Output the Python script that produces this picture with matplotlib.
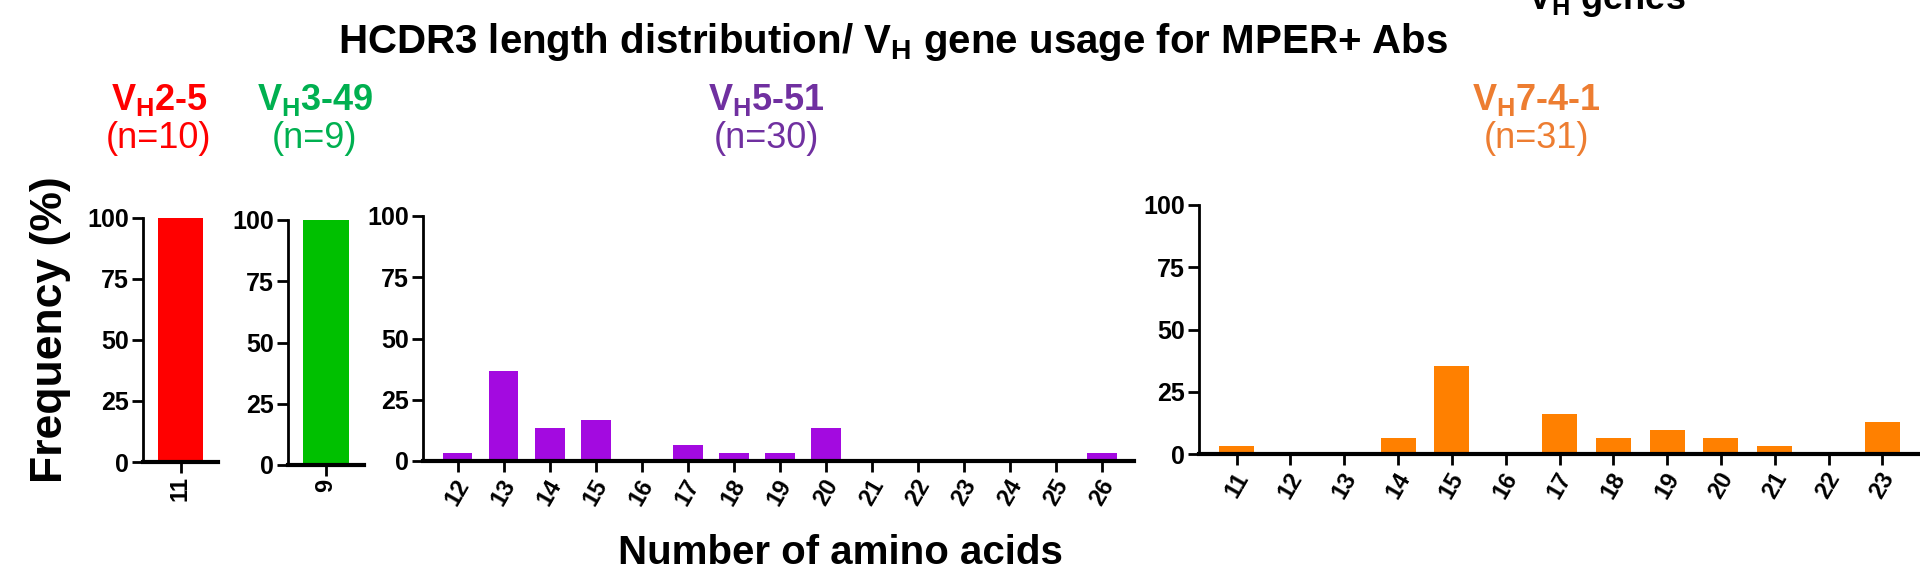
import numpy as np
import matplotlib
matplotlib.use("Agg")
import matplotlib.pyplot as plt

plt.rcParams['font.family'] = 'Liberation Sans'
plt.rcParams['mathtext.fontset'] = 'custom'
plt.rcParams['mathtext.rm'] = 'Liberation Sans'
plt.rcParams['mathtext.bf'] = 'Liberation Sans:bold'

# data: HCDR3 length (aa) -> frequency (%)
vh2_lengths = [11]
vh2_freq = [100.0]
vh3_lengths = [9]
vh3_freq = [100.0]
vh5_lengths = [12, 13, 14, 15, 16, 17, 18, 19, 20, 21, 22, 23, 24, 25, 26]
vh5_freq = [3.3, 36.7, 13.3, 16.7, 0, 6.7, 3.3, 3.3, 13.3, 0, 0, 0, 0, 0, 3.3]
vh7_lengths = [11, 12, 13, 14, 15, 16, 17, 18, 19, 20, 21, 22, 23]
vh7_freq = [3.2, 0, 0, 6.5, 35.5, 0, 16.1, 6.5, 9.7, 6.5, 3.2, 0, 12.9]

gene_names = ['2-5', '3-49', '5-51', '7-4-1']
gene_n = [10, 9, 30, 31]
bar_colors = ['#ff0000', '#00c000', '#a30ae0', '#ff8000']
text_colors = ['#ff0000', '#00b050', '#7030a0', '#ed7d31']

W, H = 1920, 579
fig = plt.figure(figsize=(W / 100, H / 100), dpi=100)


def add_px_axes(x0, x1, ytop, ybase):
    return fig.add_axes([x0 / W, 1 - ybase / H, (x1 - x0) / W, (ybase - ytop) / H])


# pixel boxes: (left, right, y of 100, y of 0)
panels = [
    (vh2_lengths, vh2_freq, (143, 218, 218, 462), (10.5, 11.5), 90),
    (vh3_lengths, vh3_freq, (288, 364, 220, 465), (8.5, 9.5), 90),
    (vh5_lengths, vh5_freq, (423, 1134, 216, 461), (11.25, 26.7), 60),
    (vh7_lengths, vh7_freq, (1199, 1920, 205, 454), (10.3, 23.7), 60),
]

for i, (xs, ys, box, xlim, rot) in enumerate(panels):
    ax = add_px_axes(*box)
    ax.bar(xs, ys, width=0.65 if len(xs) > 1 else 0.6, color=bar_colors[i])
    ax.set_xlim(*xlim)
    ax.set_ylim(0, 100)
    ax.set_yticks([0, 25, 50, 75, 100])
    ax.set_xticks(xs)
    ax.set_xticklabels([str(v) for v in xs], rotation=rot, fontweight='bold', fontsize=17)
    for lab in ax.get_yticklabels():
        lab.set_fontweight('bold')
        lab.set_fontsize(18)
    for s in ['top', 'right']:
        ax.spines[s].set_visible(False)
    ax.spines['left'].set_linewidth(2)
    ax.spines['bottom'].set_linewidth(3)
    ax.tick_params(width=2, length=8, pad=2)

# gene labels
label_x = [159, 315, 766, 1536]
for i in range(4):
    fig.text(label_x[i] / W, 1 - 100 / H, r'V$_\mathbf{H}$' + gene_names[i], color=text_colors[i],
             fontsize=26, fontweight='bold', ha='center', va='center')
    fig.text(label_x[i] / W, 1 - 138 / H, f'(n={gene_n[i]})', color=text_colors[i],
             fontsize=26, ha='center', va='center')

fig.text(893 / W, 1 - 42 / H, r'HCDR3 length distribution/ V$_\mathbf{H}$ gene usage for MPER+ Abs',
         fontsize=29, fontweight='bold', ha='center', va='center')
fig.text(1606 / W, 1 - 0 / H, r'V$_\mathbf{H}$ genes', fontsize=26, fontweight='bold',
         ha='center', va='center')
fig.text(51 / W, 1 - 330 / H, 'Frequency (%)', fontsize=32, fontweight='bold',
         rotation=90, ha='center', va='center')
fig.text(840 / W, 1 - 553 / H, 'Number of amino acids', fontsize=29, fontweight='bold',
         ha='center', va='center')

fig.savefig('out.png', dpi=100)
